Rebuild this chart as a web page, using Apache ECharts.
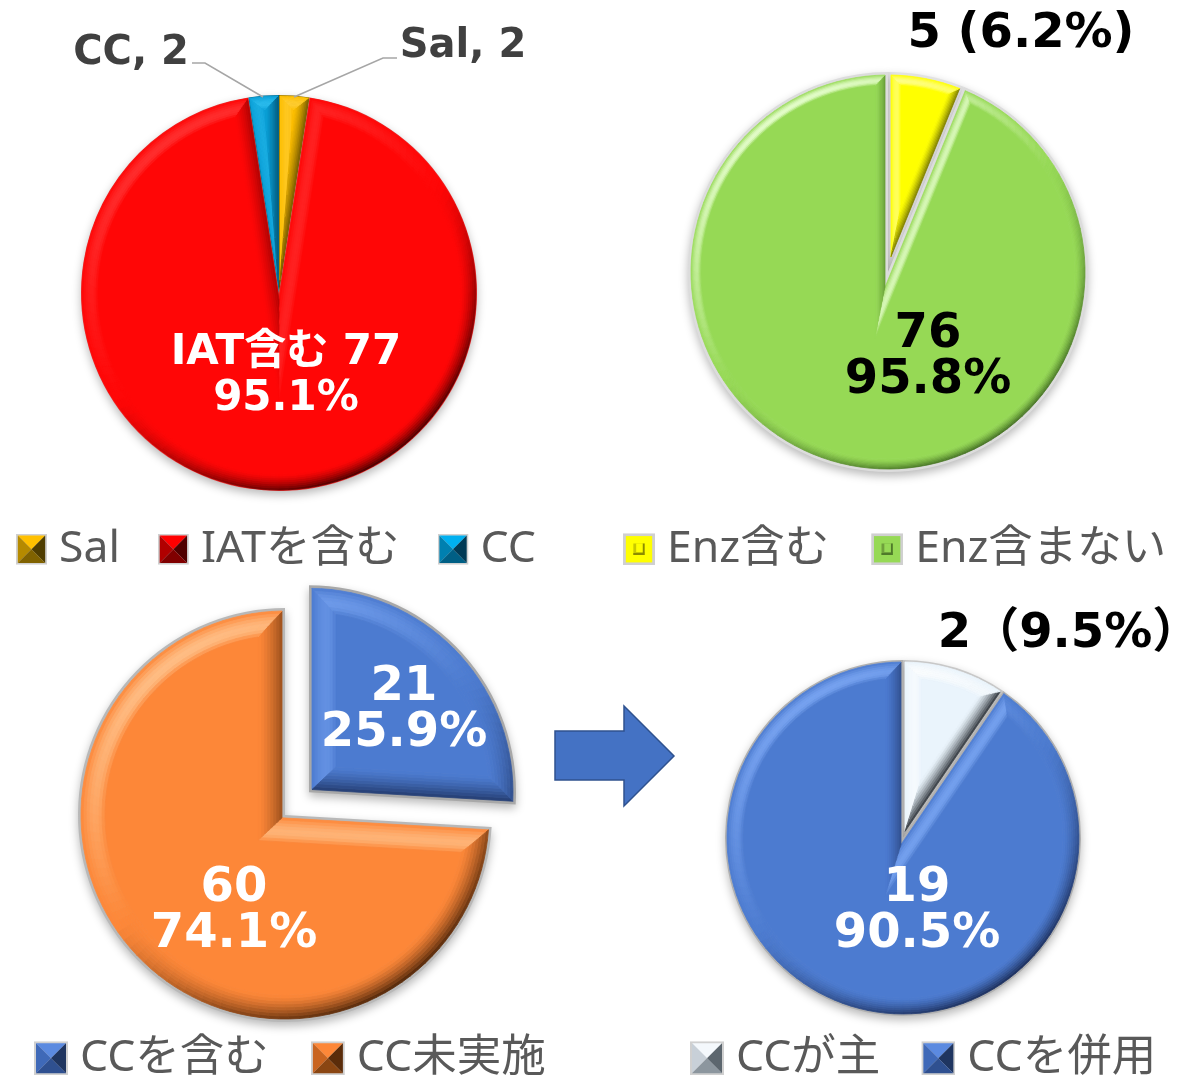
<!DOCTYPE html>
<html>
<head><meta charset="utf-8"></head>
<script type="text/javascript" src="https://cdn.jsdelivr.net/npm/echarts@6/dist/echarts.min.js"></script>
<body style="margin:0;background-color:white;">
<div id="main" style="width:1188px;height:1078px;"></div>
</body>
<script>
// data
var iatNames = ['Sal', 'IATを含む', 'CC']
var iatValues = [2, 77, 2]
var iatLabels = ['Sal, 2', 'IAT含む 77\n95.1%', 'CC, 2']

var enzNames = ['Enz含む', 'Enz含まない']
var enzValues = [5, 76]
var enzLabels = ['5 (6.2%)', '76\n95.8%']

var ccNames = ['CCを含む', 'CC未実施']
var ccValues = [21, 60]
var ccLabels = ['21\n25.9%', '60\n74.1%']

var mainNames = ['CCが主', 'CCを併用']
var mainValues = [2, 19]
var mainLabels = ['2（9.5%）', '19\n90.5%']

var FONT = '"Noto Sans","Noto Sans CJK JP",sans-serif'
var BOLD_FONT = '"DejaVu Sans","Noto Sans CJK JP",sans-serif'
var LIGHT = [-0.55, -0.83]
var RINGS = 8

function dir(a) { return [Math.sin(a), -Math.cos(a)] }
function hex(c) { return [1, 3, 5].map(function (i) { return parseInt(c.substr(i, 2), 16) }) }
function mix(a, b, t) {
    var x = hex(a), y = hex(b)
    return 'rgb(' + x.map(function (v, i) { return Math.round(v + (y[i] - v) * t) }).join(',') + ')'
}

// per pie look: colours per slice, label spots, legend spot
var pies = [
    {
        names: iatNames, values: iatValues, labels: iatLabels, center: [279, 293], R: 198, bevel: 16, rim: 1,
        offset: [0, 0, 0], outline: ['#8a6d00', '#e83030', '#006a90'], labelSize: [40, 42, 40],
        flat: ['#ffc000', '#ff0606', '#0aa0d8'], hi: ['#ffd040', '#ff3030', '#30c0f0'], lo: ['#3a2c00', '#400000', '#00202f'],
        labelPos: [[463, 47], [286, 376], [131, 54]], labelColor: ['#404040', '#ffffff', '#404040'],
        leader: [[[294, 97], [383, 58], [397, 58]], null, [[263, 97], [205, 63], [192, 63]]],
        icons: [['#ffc000', '#b58a00', '#4f3d00', '#806200'], ['#ff0000', '#b00000', '#500000', '#800000'], ['#00b0f0', '#0080b0', '#003a55', '#005f85']],
        legend: [16, 527], gap: 38, inner: false, iconSize: 31
    },
    {
        names: enzNames, values: enzValues, labels: enzLabels, center: [888, 272], R: 200, bevel: 10, rim: 3,
        offset: [0, 0], outline: ['#e2e2e2', '#dcdcdc'], labelSize: [48, 48],
        flat: ['#ffff00', '#96d955'], hi: ['#ffffb0', '#e8ffd0'], lo: ['#5a5a00', '#3f6a20'],
        labelPos: [[1021, 35], [928, 358]], labelColor: ['#000000', '#000000'],
        leader: [null, null],
        icons: [['#ffff00', '#e4e4e4', '#8c8c00', '#c8c800'], ['#96d955', '#d0d0d0', '#4f7a2a', '#6fa03c']],
        legend: [623, 527], gap: 42, inner: true, iconSize: 32
    },
    {
        names: ccNames, values: ccValues, labels: ccLabels, center: [285, 815], R: 207, bevel: 24, rim: 3,
        offset: [33, 0], outline: ['#a8a8a8', '#b8b8b8'], labelSize: [48, 48],
        flat: ['#4c7bd0', '#fd8738'], hi: ['#78a4f2', '#ffc088'], lo: ['#1a2c58', '#4c2408'],
        labelPos: [[404, 711], [234, 912]], labelColor: ['#ffffff', '#ffffff'],
        leader: [null, null],
        icons: [['#5b8ae0', '#3f69b8', '#1f3560', '#2f5090'], ['#fd8738', '#c96420', '#5a2c0a', '#8a4612']],
        legend: [34, 1036], gap: 42, inner: false, iconSize: 34
    },
    {
        names: mainNames, values: mainValues, labels: mainLabels, center: [903, 838], R: 178, bevel: 16, rim: 2,
        offset: [0, 0], outline: ['#c8c8c8', '#b0b0b0'], labelSize: [48, 48],
        flat: ['#eaf4fc', '#4c7bd0'], hi: ['#ffffff', '#78a4f2'], lo: ['#20262c', '#1a2c58'],
        labelPos: [[1069, 635], [917, 912]], labelColor: ['#000000', '#ffffff'],
        leader: [null, null],
        icons: [['#f4f8fc', '#c8d0d8', '#5c666e', '#8c969e'], ['#5b8ae0', '#3f69b8', '#1f3560', '#2f5090']],
        legend: [690, 1036], gap: 41, inner: false, iconSize: 34
    }
]

// square legend icon with four mitred faces
function bevelIcon(c, inner) {
    var svg = '<svg xmlns="http://www.w3.org/2000/svg" width="34" height="34">' +
        '<rect width="34" height="34" fill="#d0d0d0"/>'
    if (inner) {
        svg += '<rect x="3" y="3" width="28" height="28" fill="' + c[0] + '"/>' +
            '<polygon points="11,11 23,11 23,23 11,23" fill="' + c[3] + '"/>' +
            '<polygon points="14,11 23,11 23,20 14,20" fill="' + c[0] + '"/>' +
            '<polygon points="21,11 23,11 23,23 11,23 11,21 21,21" fill="' + c[2] + '"/>'
    } else {
        svg += '<polygon points="2,2 32,2 17,17" fill="' + c[0] + '"/>' +
            '<polygon points="2,2 2,32 17,17" fill="' + c[1] + '"/>' +
            '<polygon points="32,2 32,32 17,17" fill="' + c[2] + '"/>' +
            '<polygon points="2,32 32,32 17,17" fill="' + c[3] + '"/>'
    }
    svg += '</svg>'
    return 'image://data:image/svg+xml;charset=utf-8,' + encodeURIComponent(svg)
}

// slice angles, clockwise from 12 o'clock
function sliceAngles(values) {
    var total = values.reduce(function (a, b) { return a + b }, 0), run = 0
    return values.map(function (v) {
        var a0 = run / total * Math.PI * 2
        run += v
        return [a0, run / total * Math.PI * 2]
    })
}

// outline of a slice moved inwards by inset, mitred at the corners
function insetShape(apex, R, a0, a1, inset) {
    var h = (a1 - a0) / 2, m = dir(a0 + h), arc = []
    var d = inset === 0 ? 0 : inset / Math.sin(h)
    var delta = Math.asin(inset / (R - inset))
    var n = Math.max(2, Math.ceil((a1 - a0) / 0.05))
    for (var i = 0; i <= n; i++) {
        var a = a0 + delta + (a1 - a0 - 2 * delta) * i / n
        var p = dir(a)
        arc.push([apex[0] + p[0] * (R - inset), apex[1] + p[1] * (R - inset), a])
    }
    return { tip: [apex[0] + m[0] * d, apex[1] + m[1] * d], arc: arc }
}

// t runs 0 at the outer edge to 1 where the bevel meets the flat top
function shade(p, i, n, t) {
    var s = n[0] * LIGHT[0] + n[1] * LIGHT[1]
    if (s >= 0) return mix(p.flat[i], p.hi[i], s * Math.sin(Math.PI * Math.pow(1 - t, 0.75)) * 0.95)
    return mix(p.flat[i], p.lo[i], -s * Math.pow(1 - t, 1.4))
}

function quad(points, fill) {
    return { type: 'polygon', silent: true, shape: { points: points }, style: { fill: fill, stroke: fill, lineWidth: 0.8 } }
}

// faces of the bevel, worked out from the same values as the pie
function bevelFaces(p, i) {
    var ang = sliceAngles(p.values)[i], a0 = ang[0], a1 = ang[1], h = (a1 - a0) / 2
    var m = dir(a0 + h)
    var apex = [p.center[0] + m[0] * p.offset[i], p.center[1] + m[1] * p.offset[i]]
    var b = Math.min(p.bevel, p.R * Math.sin(h) / (1 + Math.sin(h)) - p.rim)
    var out = []
    for (var k = 0; k < RINGS; k++) {
        var t = (k + 0.5) / RINGS
        var A = insetShape(apex, p.R, a0, a1, p.rim + b * k / RINGS)
        var B = insetShape(apex, p.R, a0, a1, p.rim + b * (k + 1) / RINGS)
        var last = A.arc.length - 1
        out.push(quad([A.tip, A.arc[0], B.arc[0], B.tip], shade(p, i, dir(a0 - Math.PI / 2), t)))
        out.push(quad([A.tip, A.arc[last], B.arc[last], B.tip], shade(p, i, dir(a1 + Math.PI / 2), t)))
        for (var j = 0; j < last; j++) {
            out.push(quad([A.arc[j], A.arc[j + 1], B.arc[j + 1], B.arc[j]], shade(p, i, dir((A.arc[j][2] + A.arc[j + 1][2]) / 2), t)))
        }
    }
    var top = insetShape(apex, p.R, a0, a1, p.rim + b)
    out.push(quad([top.tip].concat(top.arc), p.flat[i]))
    return out
}

var series = [], legends = []
pies.forEach(function (p) {
    var selected = p.offset.some(function (o) { return o > 0 })
    var offset = Math.max.apply(null, p.offset)
    // plain pie underneath
    series.push({
        type: 'pie', center: p.center, radius: [0, p.R], clockwise: true, startAngle: 90, z: 1,
        selectedMode: selected ? 'multiple' : false, selectedOffset: offset, silent: true,
        label: { show: false }, labelLine: { show: false }, emphasis: { disabled: true },
        itemStyle: { shadowBlur: 10, shadowOffsetY: 4, shadowColor: 'rgba(0,0,0,0.28)' },
        data: p.names.map(function (n, i) {
            return { name: n, value: p.values[i], selected: p.offset[i] > 0, itemStyle: { color: p.outline[i] } }
        })
    })
    // bevel faces
    series.push({
        type: 'custom', coordinateSystem: 'none', z: 2, silent: true,
        data: p.values.map(function (v, i) { return [i, v] }),
        renderItem: function (params, api) {
            return { type: 'group', children: bevelFaces(p, api.value(0)) }
        }
    })
    // labels on top
    series.push({
        type: 'pie', center: p.center, radius: [0, p.R], clockwise: true, startAngle: 90, z: 3,
        selectedMode: false, silent: true, avoidLabelOverlap: false, emphasis: { disabled: true },
        itemStyle: { color: 'rgba(0,0,0,0)' },
        labelLine: { show: true, lineStyle: { color: '#a6a6a6', width: 1.5 } },
        labelLayout: function (params) {
            var i = params.dataIndex
            var res = { x: p.labelPos[i][0], y: p.labelPos[i][1], align: 'center', verticalAlign: 'middle' }
            if (p.leader[i]) res.labelLinePoints = p.leader[i]
            return res
        },
        data: p.names.map(function (n, i) {
            return {
                name: n, value: p.values[i],
                label: {
                    show: true, position: 'outside', formatter: p.labels[i], color: p.labelColor[i],
                    fontFamily: BOLD_FONT, fontWeight: 'bold', fontSize: p.labelSize[i], lineHeight: 46, align: 'center'
                },
                labelLine: { show: !!p.leader[i] }
            }
        })
    })
    legends.push({
        left: p.legend[0], top: p.legend[1], padding: 0, itemGap: p.gap, itemWidth: p.iconSize, itemHeight: p.iconSize,
        selectedMode: false,
        textStyle: { fontFamily: FONT, fontSize: 44.5, color: '#595959', padding: [0, 0, 24, 7] },
        data: p.names.map(function (n, i) { return { name: n, icon: bevelIcon(p.icons[i], p.inner) } })
    })
})

var myChart = echarts.init(document.getElementById('main'));
var option = {
    animation: false,
    backgroundColor: '#ffffff',
    legend: legends,
    series: series,
    graphic: [{
        type: 'polygon', silent: true,
        shape: { points: [[555, 731], [624, 731], [624, 706], [674, 756], [624, 806], [624, 780], [555, 780]] },
        style: { fill: '#4472c4', stroke: '#2f528f', lineWidth: 1.5 }
    }]
}
option && myChart.setOption(option);
</script>
</html>
